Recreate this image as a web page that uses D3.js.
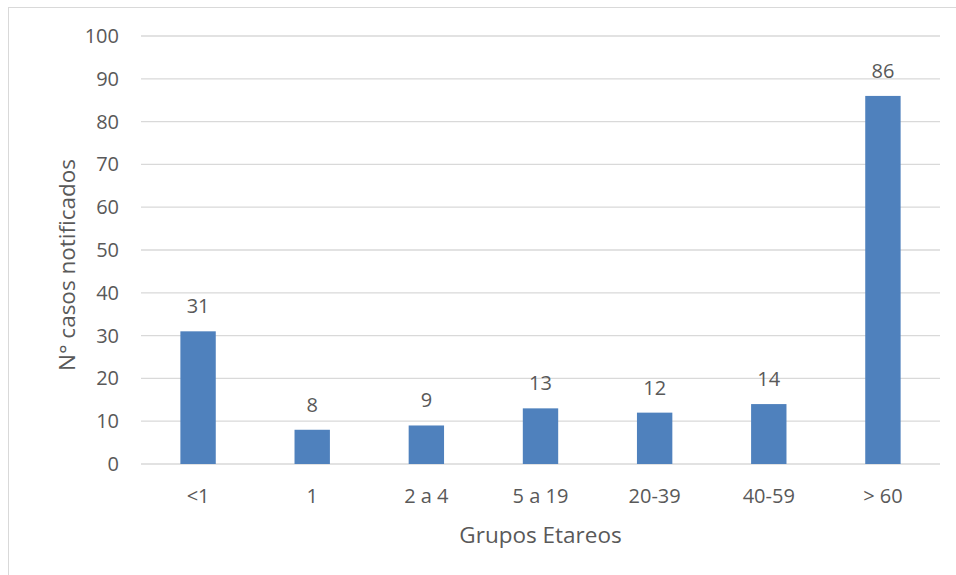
<!DOCTYPE html>
<html lang="es">
<head>
<meta charset="utf-8"/>
<script src="https://d3js.org/d3.v7.min.js"></script>
<style>
  body { margin: 0; background: #fff; }
  text { font-family: "Open Sans", "Noto Sans", sans-serif; fill: #595959; }
</style>
</head>
<body>
<svg id="chart" width="956" height="575"></svg>
<script>
const categories = ["<1", "1", "2 a 4", "5 a 19", "20-39", "40-59", "> 60"];
const casos = [31, 8, 9, 13, 12, 14, 86];
const yTicks = [0, 10, 20, 30, 40, 50, 60, 70, 80, 90, 100];

const svg = d3.select("#chart");
const plot = {left: 141, right: 940, top: 36, bottom: 464};

// chart frame
svg.append("rect")
  .attr("x", 8.5).attr("y", 7.5)
  .attr("width", 960).attr("height", 580)
  .attr("fill", "none")
  .attr("stroke", "#d9d9d9");

const x = d3.scaleBand()
  .domain(categories)
  .range([plot.left, plot.right])
  .paddingInner(0.69)
  .paddingOuter(0.345);

const y = d3.scaleLinear()
  .domain([0, 100])
  .range([plot.bottom, plot.top]);

// gridlines
svg.append("g")
  .selectAll("line")
  .data(yTicks)
  .join("line")
    .attr("x1", plot.left).attr("x2", plot.right)
    .attr("y1", d => y(d)).attr("y2", d => y(d))
    .attr("stroke", "#d9d9d9")
    .attr("stroke-width", 1.3);

// y tick labels
svg.append("g")
  .selectAll("text")
  .data(yTicks)
  .join("text")
    .attr("x", 119)
    .attr("y", d => y(d))
    .attr("dy", "0.35em")
    .attr("text-anchor", "end")
    .attr("font-size", "20px")
    .text(d => d);

// bars
svg.append("g")
  .selectAll("rect")
  .data(casos)
  .join("rect")
    .attr("x", (d, i) => x(categories[i]))
    .attr("y", d => y(d))
    .attr("width", x.bandwidth())
    .attr("height", d => y(0) - y(d))
    .attr("fill", "#4f81bd");

// value labels
svg.append("g")
  .selectAll("text")
  .data(casos)
  .join("text")
    .attr("x", (d, i) => x(categories[i]) + x.bandwidth() / 2)
    .attr("y", d => y(d) - 18)
    .attr("text-anchor", "middle")
    .attr("font-size", "20px")
    .text(d => d);

// x tick labels
svg.append("g")
  .selectAll("text")
  .data(categories)
  .join("text")
    .attr("x", d => x(d) + x.bandwidth() / 2)
    .attr("y", 503)
    .attr("text-anchor", "middle")
    .attr("font-size", "20px")
    .text(d => d);

// axis titles
svg.append("text")
  .attr("x", (plot.left + plot.right) / 2)
  .attr("y", 543)
  .attr("text-anchor", "middle")
  .attr("font-size", "22.5px")
  .text("Grupos Etareos");

svg.append("text")
  .attr("transform", "translate(75," + ((plot.top + plot.bottom) / 2 + 15) + ") rotate(-90)")
  .attr("text-anchor", "middle")
  .attr("font-size", "22.5px")
  .text("N° casos notificados");
</script>
</body>
</html>
